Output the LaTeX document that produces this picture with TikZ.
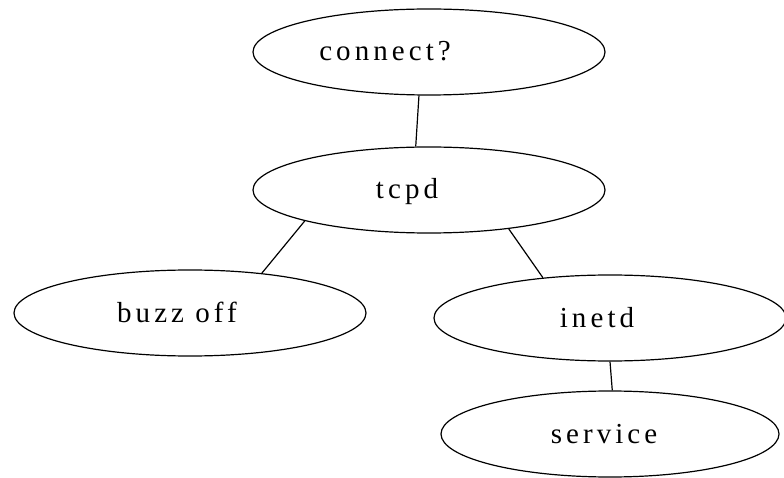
\documentclass[tikz,border=0pt]{standalone}
\usepackage{fontspec}
\setmainfont{Liberation Serif}[LetterSpace=14]
\usetikzlibrary{shapes.geometric}

\tikzset{
  state/.style={draw, ellipse, line width=1.2pt, minimum width=352pt, minimum height=86pt,
    inner sep=0pt, text height=20pt, text depth=2pt, font=\fontsize{29}{34}\selectfont},
  edge/.style={line width=1.2pt}
}

\begin{document}
\begin{tikzpicture}[x=1pt, y=-1pt]
\useasboundingbox (0,0) rectangle (784,478);

\node[state] (connect) at (429,52) {connect?\hspace*{88pt}};
\node[state] (tcpd) at (429,190) {tcpd\hspace*{44pt}};
\node[state] (buzz) at (190,313) {buzz off\hspace*{26pt}};
\node[state] (inetd) at (610,318) {inetd\hspace*{26pt}};
\node[state, minimum width=338pt] (service) at (610,434) {service\hspace*{12pt}};

\draw[edge] (connect.-103) -- (tcpd.107);
\draw[edge] (tcpd.-166) -- (buzz.29);
\draw[edge] (tcpd.-26) -- (inetd.149);
\draw[edge] (inetd.-90) -- (service.87);

\end{tikzpicture}
\end{document}
